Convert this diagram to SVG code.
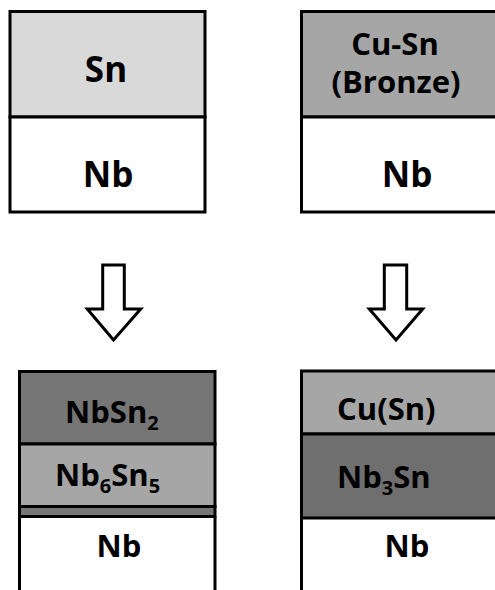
<svg xmlns="http://www.w3.org/2000/svg" width="495" height="590" viewBox="0 0 495 590">
<style>
.l{stroke:#000;stroke-width:3}
.t{font-family:"Open Sans","Liberation Sans",sans-serif;font-weight:bold;fill:#000}
.big{font-size:35px}
.sm{font-size:31px}
.c{text-anchor:middle}
.sub{font-size:20px}
.arrow{fill:#fff;stroke:#000;stroke-width:3;stroke-linejoin:miter}
</style>
<rect width="495" height="590" fill="#fff"/>
<g id="box-sn-nb">
<rect class="l" x="10" y="11.5" width="195" height="105.5" fill="#d9d9d9"/>
<rect class="l" x="10" y="117" width="195" height="95" fill="#fff"/>
<text class="t big c" x="106" y="82">Sn</text>
<text class="t big c" x="108" y="187">Nb</text>
</g>
<g id="box-bronze-nb">
<rect class="l" x="301.5" y="11.5" width="200" height="105.5" fill="#a6a6a6"/>
<rect class="l" x="301.5" y="117" width="200" height="95" fill="#fff"/>
<text class="t sm c" x="395" y="55">Cu-Sn</text>
<text class="t sm c" x="396" y="93">(Bronze)</text>
<text class="t big c" x="407" y="187">Nb</text>
</g>
<g id="box-result-left">
<rect class="l" x="19.5" y="371.5" width="195.5" height="72.5" fill="#767676"/>
<rect class="l" x="19.5" y="444" width="195.5" height="62.5" fill="#a6a6a6"/>
<rect class="l" x="19.5" y="506.5" width="195.5" height="10" fill="#767676"/>
<path class="l" d="M19.5 516.5V595M215 516.5V595" fill="none"/>
<text class="t sm" x="65" y="423">NbSn<tspan class="sub" dy="7">2</tspan></text>
<text class="t sm" x="55" y="486">Nb<tspan class="sub" dy="7">6</tspan><tspan dy="-7">Sn</tspan><tspan class="sub" dy="7">5</tspan></text>
<text class="t sm c" x="119" y="557">Nb</text>
</g>
<g id="box-result-right">
<rect class="l" x="301.5" y="371" width="200" height="63" fill="#a6a6a6"/>
<rect class="l" x="301.5" y="434" width="200" height="84" fill="#6f6f6f"/>
<path class="l" d="M301.5 518V595" fill="none"/>
<text class="t sm" x="337" y="420">Cu(Sn)</text>
<text class="t sm" x="337" y="488">Nb<tspan class="sub" dy="7">3</tspan><tspan dy="-7">Sn</tspan></text>
<text class="t sm c" x="407" y="557">Nb</text>
</g>
<g id="connectors">
<path class="arrow" d="M102.7 265H124.3V309H140.7L113.5 340L87.3 309H102.7Z"/>
<path class="arrow" d="M384.3 265H406.7V309H422.7L396 340L369.3 309H384.3Z"/>
</g>
</svg>
